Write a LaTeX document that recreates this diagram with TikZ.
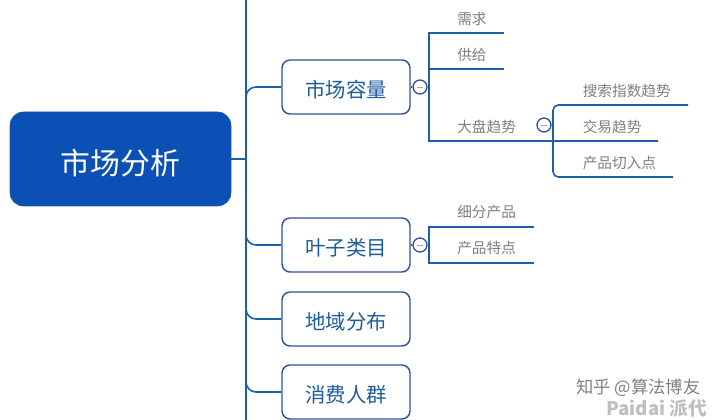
\documentclass[tikz,border=0pt]{standalone}
\usepackage{fontspec}
\setmainfont{Noto Sans CJK SC}
\definecolor{navy}{HTML}{1F5FA8}
\definecolor{boxedge}{HTML}{2F5597}
\definecolor{mainfill}{HTML}{0B50B5}
\definecolor{titletext}{HTML}{1F5C9E}
\definecolor{subtext}{HTML}{7F7F7F}
\tikzset{
  x=0.75pt,y=-0.75pt,
  link/.style={draw=navy,line width=1.2pt,rounded corners=7.5pt},
  mainbox/.style={draw=navy,fill=mainfill,rounded corners=10pt,minimum width=165.75pt,minimum height=70.5pt,inner sep=0pt,text=white,text height=30pt,text depth=7pt,font=\fontsize{22.4}{26}\selectfont},
  topicbox/.style={draw=boxedge,line width=1.1pt,fill=white,rounded corners=6pt,minimum width=96pt,minimum height=40.5pt,inner sep=0pt,text=titletext,text height=21pt,text depth=4.9pt,font=\fontsize{15.3}{18}\selectfont},
  subtopic/.style={text=subtext,inner sep=0pt,anchor=west,font=\fontsize{11}{13}\selectfont},
  fold/.style={circle,draw=boxedge,line width=1pt,fill=white,minimum size=10.5pt,inner sep=0pt},
  foldbar/.style={draw=gray!70,line width=0.7pt},
  mark1/.style={text=black!50,inner sep=0pt,font=\fontsize{13}{15}\selectfont},
  mark2/.style={text=black!25,inner sep=0pt,font=\bfseries\fontsize{14}{16}\selectfont},
}
\begin{document}
\begin{tikzpicture}
\useasboundingbox (0,0) rectangle (719,420);
\node[mainbox] (main) at (120.5,159) {市场分析};
\coordinate (spinetop) at (246,0);
\coordinate (spinebot) at (246,420);
\coordinate (spinemid) at (246,159);
\draw[link] (spinetop) -- (spinebot);
\draw[link] (main.east) -- (spinemid);
\node[topicbox] (t1) at (346,87) {市场容量};
\node[topicbox] (t2) at (346,245) {叶子类目};
\node[topicbox] (t3) at (346,319) {地域分布};
\node[topicbox] (t4) at (346,392) {消费人群};
\coordinate (s1) at (246,87);
\coordinate (s1b) at (246,107);
\coordinate (s2) at (246,245);
\coordinate (s2b) at (246,225);
\coordinate (s3) at (246,319);
\coordinate (s3b) at (246,299);
\coordinate (s4) at (246,392);
\coordinate (s4b) at (246,372);
\draw[link] (s1b) -- (s1) -- (t1.west);
\draw[link] (s2b) -- (s2) -- (t2.west);
\draw[link] (s3b) -- (s3) -- (t3.west);
\draw[link] (s4b) -- (s4) -- (t4.west);
% first branch
\node[subtopic] (a1) at (457,19) {需求};
\node[subtopic] (a2) at (457,54.5) {供给};
\node[subtopic] (a3) at (457,126.5) {大盘趋势};
\node[subtopic] (b1) at (582.5,90.5) {搜索指数趋势};
\node[subtopic] (b2) at (582.5,126.5) {交易趋势};
\node[subtopic] (b3) at (582.5,162.5) {产品切入点};
\coordinate (a1l) at (429,33); \coordinate (a1r) at (504,33);
\coordinate (a2l) at (429,69); \coordinate (a2r) at (504,69);
\coordinate (a3l) at (429,141); \coordinate (b2r) at (658,141);
\coordinate (b1l) at (553,105); \coordinate (b1r) at (688,105);
\coordinate (b3l) at (553,177); \coordinate (b3r) at (673,177);
\coordinate (f1r) at (429,87);
\draw[link,rounded corners=0pt] (a1r) -- (a1l) -- (a3l) -- (b2r);
\draw[link,rounded corners=0pt] (a2l) -- (a2r);
\draw[link,rounded corners=4pt] (b1r) -- (b1l) -- (b3l) -- (b3r);
\node[fold] (f1) at (420,87) {};
\node[fold] (f3) at (544,125) {};
\draw[link] (t1.east) -- (f1.west);
\draw[link] (f1.east) -- (f1r);
\draw[foldbar] ([xshift=-2.5pt]f1.center) -- ([xshift=2.5pt]f1.center);
\draw[foldbar] ([xshift=-2.5pt]f3.center) -- ([xshift=2.5pt]f3.center);
% second branch
\node[subtopic] (c1) at (457,212) {细分产品};
\node[subtopic] (c2) at (457,248) {产品特点};
\coordinate (c1l) at (429,227); \coordinate (c1r) at (534,227);
\coordinate (c2l) at (429,263); \coordinate (c2r) at (534,263);
\coordinate (f2r) at (429,245);
\draw[link,rounded corners=0pt] (c1r) -- (c1l) -- (c2l) -- (c2r);
\node[fold] (f2) at (420,245) {};
\draw[link] (t2.east) -- (f2.west);
\draw[link] (f2.east) -- (f2r);
\draw[foldbar] ([xshift=-2.5pt]f2.center) -- ([xshift=2.5pt]f2.center);
% watermarks
\node[mark2,anchor=west] (w2) at (606,408) {Paidai 派代};
\node[mark1,anchor=west] (w1) at (576,388) {知乎 @算法博友};
\end{tikzpicture}
\end{document}
